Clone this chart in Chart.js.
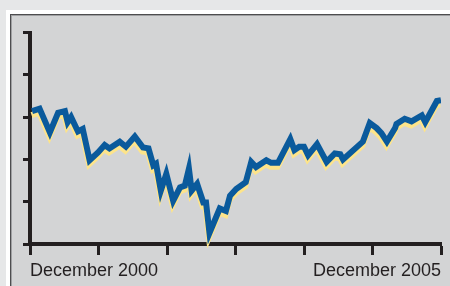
<!DOCTYPE html>
<html>
<head>
<meta charset="utf-8">
<script src="https://cdn.jsdelivr.net/npm/chart.js@4"></script>
<style>
  html, body { margin: 0; padding: 0; background: #e6e7e8; overflow: hidden; }
  #sheet { position: absolute; left: 6px; top: 10px; width: 444px; height: 276px; background: #fff; }
  #panel { position: absolute; left: 10px; top: 14px; width: 440px; height: 272px;
           background: #d3d4d5; border-left: 1px solid #4d4d4f; border-top: 1px solid #4d4d4f;
           box-shadow: inset 1px 1px 0 #9fa0a2; }
  #wrap { position: absolute; left: 0; top: 0; width: 450px; height: 286px; }
</style>
</head>
<body>
<div id="sheet"></div>
<div id="panel"></div>
<div id="wrap"><canvas id="chart"></canvas></div>
<script>
// months since December 2000
const months = [0.3, 1.4, 2.9, 4.1, 5.1, 5.5, 6.0, 7.0, 7.7, 8.7,
    9.9, 10.9, 11.6, 13.1, 14.0, 15.3, 16.5, 17.3, 18.0, 18.4,
    19.1, 19.9, 20.9, 21.9, 22.6, 23.2, 23.6, 24.4, 25.3, 25.7,
    26.2, 27.7, 28.6, 29.2, 30.1, 31.5, 32.3, 33.0, 34.5, 35.2,
    36.2, 38.0, 38.6, 39.3, 40.0, 40.6, 41.9, 43.3, 44.5, 45.3,
    45.7, 48.6, 49.6, 50.6, 51.3, 52.1, 53.3, 53.5, 54.7, 55.7,
    57.2, 57.7, 59.4, 60];
const values = [157, 160, 132, 155, 157, 144, 150, 133, 136, 99,
    108, 117, 113, 121, 115, 127, 114, 113, 93, 95,
    63, 83, 51, 67, 69, 89, 63, 71, 49, 49,
    13, 42, 39, 57, 65, 73, 97, 91, 99, 96,
    96, 124, 111, 115, 115, 105, 118, 97, 107, 106,
    100, 121, 143, 137, 131, 121, 137, 142, 148, 145,
    152, 144, 169, 170];
const xTickValues = [0, 10, 20, 30, 40, 50, 60];
const xTickLabels = ['December 2000', '', '', '', '', '', 'December 2005'];

const colors = {
    line: '#0a5a9c',
    shadow: '#fde48a',
    axis: '#231f20',
};

const points = months.map((m, i) => ({ x: m, y: values[i] }));

// shift the yellow copy down so it reads as a shadow
const shadowShift = {
    id: 'shadowShift',
    beforeDatasetDraw(chart, args) {
        if (args.index === 1) {
            chart.ctx.save();
            chart.ctx.translate(-0.5, 4);
        }
    },
    afterDatasetDraw(chart, args) {
        if (args.index === 1) chart.ctx.restore();
    }
};

Chart.defaults.font.family = '"Liberation Sans", Arial, sans-serif';

new Chart(document.getElementById('chart'), {
    type: 'line',
    data: {
        datasets: [
            { data: points, borderColor: colors.line, borderWidth: 6, pointRadius: 0, tension: 0 },
            { data: points, borderColor: colors.shadow, borderWidth: 6, pointRadius: 0, tension: 0 }
        ]
    },
    options: {
        responsive: true,
        maintainAspectRatio: false,
        animation: false,
        layout: { padding: { left: 0, right: 9, top: 32.5, bottom: 0 } },
        plugins: { legend: { display: false }, tooltip: { enabled: false } },
        scales: {
            x: {
                type: 'linear',
                min: 0,
                max: 60,
                afterBuildTicks: (scale) => { scale.ticks = xTickValues.map(v => ({ value: v })); },
                afterFit: (scale) => { scale.height = 42; },
                border: { display: true, color: colors.axis, width: 4 },
                grid: { drawOnChartArea: false, drawTicks: true, tickLength: 11, tickWidth: 3, tickColor: colors.axis },
                ticks: {
                    autoSkip: false,
                    maxRotation: 0,
                    minRotation: 0,
                    align: 'inner',
                    padding: 5,
                    color: colors.axis,
                    font: { size: 18 },
                    callback: (v) => xTickLabels[xTickValues.indexOf(v)] ?? ''
                }
            },
            y: {
                min: 0,
                max: 250,
                afterFit: (scale) => { scale.width = 30; },
                border: { display: true, color: colors.axis, width: 4 },
                grid: { drawOnChartArea: false, drawTicks: true, tickLength: 7, tickWidth: 3, tickColor: colors.axis },
                ticks: { display: false, stepSize: 50 }
            }
        }
    },
    plugins: [shadowShift]
});
</script>
</body>
</html>
